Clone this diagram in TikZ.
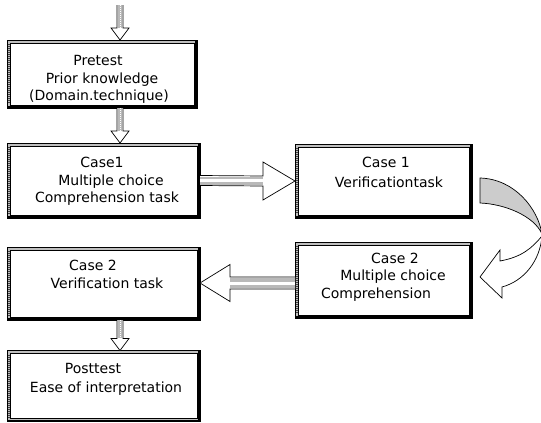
\documentclass[tikz,border=0pt]{standalone}
\usepackage{fontspec}
\newfontfamily\gfont{DejaVu Sans}
\usetikzlibrary{calc}
\tikzset{
  boxnode/.style={draw=none, inner sep=0pt, outer sep=0pt},
  txt/.style={font=\gfont\fontsize{14}{17}\selectfont, inner sep=0pt, anchor=base, text=black},
  arrowline/.style={draw=black, line width=0.7pt, fill=white, line join=miter},
  shaftfill/.style={fill=gray!55},
}
\newcommand\myboxframe[1]{%
  \fill[gray!50] (#1.north west) rectangle (#1.south east);
  \draw[black!75, dash pattern=on 1pt off 1pt, line width=2pt] ($(#1.north west)+(1.5,4)$) -- ($(#1.south west)+(1.5,-4)$);
  \draw[black!75, dash pattern=on 1pt off 1pt, line width=2pt] ($(#1.north east)+(-1.5,4)$) -- ($(#1.south east)+(-1.5,-4)$);
  \draw[black, line width=0.6pt] (#1.north west) rectangle (#1.south east);
  \draw[black, line width=0.6pt, fill=white] ($(#1.north west)+(3,3)$) rectangle ($(#1.south east)+(-3,-3)$);
  \draw[black, line width=1.8pt] ($(#1.north east)+(-0.9,0)$) -- ($(#1.south east)+(-0.9,-0.9)$) -- ($(#1.south west)+(1,-0.9)$);
}
\begin{document}
\begin{tikzpicture}[x=1pt,y=-1pt]
\useasboundingbox (0,0) rectangle (541,423);
% boxes
\node[boxnode, minimum width=190pt, minimum height=68pt] (b1) at (102,74) {};
\node[boxnode, minimum width=193pt, minimum height=75pt] (b2) at (103.5,180.5) {};
\node[boxnode, minimum width=177pt, minimum height=74pt] (b3) at (383.5,181) {};
\node[boxnode, minimum width=177pt, minimum height=76pt] (b4) at (383.5,280) {};
\node[boxnode, minimum width=193pt, minimum height=73pt] (b5) at (103.5,283.5) {};
\node[boxnode, minimum width=193pt, minimum height=71pt] (b6) at (103.5,386) {};
\myboxframe{b1}\myboxframe{b2}\myboxframe{b3}\myboxframe{b4}\myboxframe{b5}\myboxframe{b6}
% texts
\node[txt] (t1a) at (98,65) {Pretest};
\node[txt] (t1b) at (102,83) {Prior knowledge};
\node[txt] (t1c) at (99,100) {(Domain.technique)};
\node[txt] (t2a) at (102,167) {Case1};
\node[txt] (t2b) at (111,185) {Multiple choice};
\node[txt] (t2c) at (107,202) {Comprehension task};
\node[txt] (t3a) at (386,167) {Case 1};
\node[txt] (t3b) at (389,187) {Verificationtask};
\node[txt] (t4a) at (395,263) {Case 2};
\node[txt] (t4b) at (393,280) {Multiple choice};
\node[txt] (t4c) at (376,298) {Comprehension};
\node[txt] (t5a) at (93,270) {Case 2};
\node[txt] (t5b) at (107,288) {Verification task};
\node[txt] (t6a) at (93,373) {Posttest};
\node[txt] (t6b) at (106,392) {Ease of interpretation};
% vertical arrows
\coordinate (top) at (120,5);
\coordinate (a1s) at ($(b1.south west)+(113,0)$);
\coordinate (a2e) at ($(b2.north west)+(113,0)$);
\coordinate (a1e) at ($(b1.north west)+(113,0)$);
\coordinate (a3s) at ($(b5.south west)+(113,0)$);
\coordinate (a3e) at ($(b6.north west)+(113,0)$);
\foreach \s/\e in {top/a1e, a1s/a2e, a3s/a3e}{
  \draw[arrowline] ($(\s)+(-3,0)$) -- ($(\e)+(-3,-12)$) -- ($(\e)+(-9,-12)$) -- (\e) -- ($(\e)+(9,-12)$) -- ($(\e)+(3,-12)$) -- ($(\s)+(3,0)$);
  \fill[shaftfill] ($(\s)+(-2.2,0)$) rectangle ($(\e)+(2.2,-12.5)$);
  \draw[white, line width=0.6pt, dash pattern=on 1pt off 1pt] ($(\s)+(0,0)$) -- ($(\e)+(0,-12.5)$);
}
% horizontal arrow b2 -> b3
\draw[arrowline] ($(b2.east)+(0,-5)$) -- ($(b3.west)+(-32,-5)$) -- ($(b3.west)+(-32,-19)$) -- (b3.west) -- ($(b3.west)+(-32,19)$) -- ($(b3.west)+(-32,5)$) -- ($(b2.east)+(0,5)$);
\fill[shaftfill] ($(b2.east)+(0,-4)$) rectangle ($(b3.west)+(-32.4,4)$);
\fill[white] ($(b2.east)+(0,-1.2)$) rectangle ($(b3.west)+(-32.4,1.2)$);
% horizontal arrow b4 -> b5
\coordinate (h2s) at ($(b4.west)+(0,3)$);
\coordinate (h2e) at ($(b5.east)+(0,-0.5)$);
\draw[arrowline] ($(h2s)+(0,-6)$) -- ($(h2e)+(30,-6)$) -- ($(h2e)+(30,-18.5)$) -- (h2e) -- ($(h2e)+(30,18.5)$) -- ($(h2e)+(30,6)$) -- ($(h2s)+(0,6)$);
\fill[shaftfill] ($(h2s)+(0,-5)$) rectangle ($(h2e)+(30.4,5)$);
\fill[white] ($(h2s)+(0,-1.5)$) rectangle ($(h2e)+(30.4,1.5)$);
% curved arrow b3 -> b4
\coordinate (c1) at ($(b3.east)+(8,0)$);
\coordinate (c2) at ($(b4.east)+(8,-3)$);
\draw[arrowline, fill=gray!40] ($(c1)+(0,-3)$) .. controls +(35,1) and +(-4,-25) .. (542,234)
   .. controls +(-8,-18) and +(25,1) .. ($(c1)+(0,22)$) -- cycle;
\draw[arrowline] (542,236) .. controls +(-2,25) and +(22,-6) .. ($(c2)+(22,10)$)
   -- ($(c2)+(22,21)$) -- (c2) -- ($(c2)+(20,-27)$) -- ($(c2)+(20,-16)$)
   .. controls +(22,-4) and +(-10,12) .. (542,236);
\end{tikzpicture}
\end{document}
